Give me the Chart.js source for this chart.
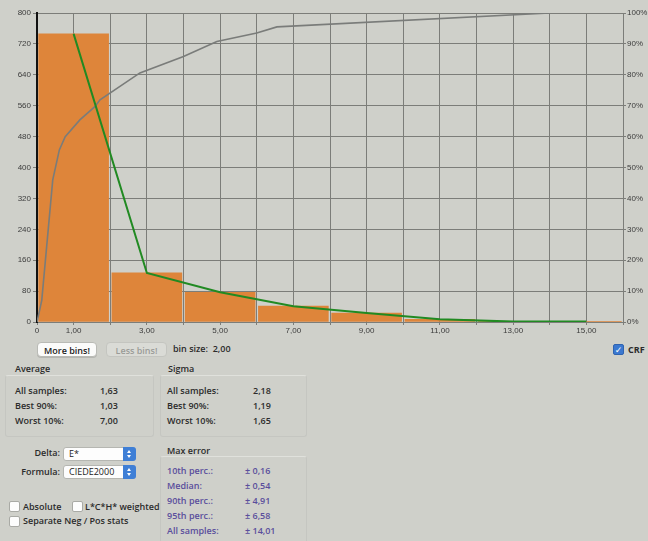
<!DOCTYPE html>
<html>
<head>
<meta charset="utf-8">
<script src="https://cdn.jsdelivr.net/npm/chart.js@4.4.1/dist/chart.umd.min.js"></script>
<style>
  html, body { margin: 0; padding: 0; }
  body {
    width: 648px; height: 541px; position: relative; overflow: hidden;
    background: #cfd0ca;
    font-family: "Open Sans", "DejaVu Sans", sans-serif;
    font-size: 9px; font-weight: 600; color: #2b2b2b;
  }
  #plot { position: absolute; left: 0; top: 0; width: 648px; height: 340px; }
  .t { position: absolute; white-space: nowrap; height: 12px; line-height: 12px; }
  .r { text-align: right; }
  .purple { color: #5a4e9c; }
  .btn {
    position: absolute; height: 15px; line-height: 15px; text-align: center;
    border-radius: 4px; box-sizing: border-box;
  }
  .btn.on { background: #fbfbfa; border: 1px solid #b9bab5; color: #222; box-shadow: 0 1px 0 #b5b6b1; }
  .btn.off { background: #dadbd6; border: 1px solid #c4c5c0; color: #9a9b98; }
  .box {
    position: absolute; box-sizing: border-box;
    border: 1px solid #c5c6c1; border-top-color: #e0e1dc; border-radius: 3px;
  }
  .sel {
    position: absolute; box-sizing: border-box; height: 14px; width: 73px;
    background: #fdfdfd; border: 1px solid #b5b6b1; border-radius: 3px;
    line-height: 12px; padding-left: 5px; font-weight: 500; color: #222;
  }
  .sel .arr {
    position: absolute; right: -1px; top: -1px; width: 13px; height: 14px;
    background: #3f7fd6; border-radius: 0 3px 3px 0;
  }
  .sel .arr::before, .sel .arr::after {
    content: ""; position: absolute; left: 4px; width: 0; height: 0;
    border-left: 2.5px solid transparent; border-right: 2.5px solid transparent;
  }
  .sel .arr::before { top: 3px; border-bottom: 3px solid #fff; }
  .sel .arr::after { top: 8px; border-top: 3px solid #fff; }
  .cb {
    position: absolute; width: 11px; height: 11px; box-sizing: border-box;
    background: #fdfdfd; border: 1px solid #a9aaa5; border-radius: 2px;
  }
  .cb.checked {
    background: #3b78d0; border-color: #2f63b0; color: #fff;
    font-size: 9px; line-height: 9px; text-align: center;
  }
</style>
</head>
<body>
<div id="plot"><canvas id="chart"></canvas></div>

<!-- bin controls -->
<div class="btn on"  style="left:37px; top:342px; width:60px;">More bins!</div>
<div class="btn off" style="left:106px; top:342px; width:61px;">Less bins!</div>
<div class="t" style="left:173px; top:343px;">bin size:&nbsp; 2,00</div>
<div class="cb checked" style="left:613px; top:344px;">&#10003;</div>
<div class="t" style="left:628px; top:344px; font-weight:700;">CRF</div>

<!-- statistics -->
<div class="box" style="left:5px; top:375px; width:149px; height:62px;"></div>
<div class="box" style="left:160px; top:375px; width:147px; height:62px;"></div>
<div class="box" style="left:160px; top:456px; width:147px; height:90px;"></div>
<div id="stats"></div>

<!-- options -->
<div class="t r" style="left:0; width:60px; top:447px;">Delta:</div>
<div class="sel" style="left:63px; top:447px;">E*<span class="arr"></span></div>
<div class="t r" style="left:0; width:60px; top:466px;">Formula:</div>
<div class="sel" style="left:63px; top:465px;">CIEDE2000<span class="arr"></span></div>
<div class="cb" style="left:9px; top:501px;"></div>
<div class="t" style="left:23px; top:501px;">Absolute</div>
<div class="cb" style="left:72px; top:501px;"></div>
<div class="t" style="left:85px; top:501px;">L*C*H* weighted</div>
<div class="cb" style="left:9px; top:516px;"></div>
<div class="t" style="left:23px; top:515px;">Separate Neg / Pos stats</div>

<script>
// Histogram of colour differences, bin size 2,00
const binCenters = [1, 3, 5, 7, 9, 11, 13, 15];
const binCounts  = [746, 127, 77, 41, 23, 7, 1, 1];

// Cumulative relative frequency (percent of samples)
const crfX   = [0, 0.13, 0.43, 0.61, 0.77, 1.17, 1.58, 1.72, 2.81, 4.0, 4.91, 6.0, 6.55, 14];
const crfPct = [0, 7, 46, 55.7, 60, 65.4, 69.7, 71.9, 80.6, 85.9, 90.8, 93.5, 95.5, 100];

// Axis labelling
const xLabelValues = [0, 1, 3, 5, 7, 9, 11, 13, 15];

// Summary tables
const statRows    = ['All samples:', 'Best 90%:', 'Worst 10%:'];
const averageVals = ['1,63', '1,03', '7,00'];
const sigmaVals   = ['2,18', '1,19', '1,65'];
const maxErrRows  = ['10th perc.:', 'Median:', '90th perc.:', '95th perc.:', 'All samples:'];
const maxErrVals  = ['± 0,16', '± 0,54', '± 4,91', '± 6,58', '± 14,01'];

// ---- summary text ----
(function () {
  const host = document.getElementById('stats');
  const add = (txt, x, cy, cls) => {
    const d = document.createElement('div');
    d.className = 't' + (cls ? ' ' + cls : '');
    d.style.left = x + 'px';
    d.style.top = (cy - 6) + 'px';
    d.textContent = txt;
    host.appendChild(d);
  };
  add('Average', 15, 369);
  add('Sigma', 168, 369);
  const rowY = [391, 405.5, 420.5];
  statRows.forEach((lbl, i) => {
    add(lbl, 15, rowY[i]);
    add(averageVals[i], 100, rowY[i]);
    add(lbl, 167, rowY[i]);
    add(sigmaVals[i], 253, rowY[i]);
  });
  add('Max error', 167, 450.5);
  const errY = [470.5, 485.5, 500.5, 515.5, 530.5];
  maxErrRows.forEach((lbl, i) => {
    add(lbl, 167, errY[i], 'purple');
    add(maxErrVals[i], 245, errY[i], 'purple');
  });
})();

// ---- chart ----
Chart.defaults.font.family = '"Liberation Sans", Arial, sans-serif';
Chart.defaults.font.size = 8;
Chart.defaults.color = '#3c3c3c';

const gridColor = '#7c7d79';
const fmtX = v => v === 0 ? '0' : (xLabelValues.includes(v) ? v.toFixed(2).replace('.', ',') : '');

new Chart(document.getElementById('chart'), {
  type: 'bar',
  data: {
    datasets: [
      {
        type: 'line',
        label: 'Frequency',
        data: binCenters.map((x, i) => ({ x, y: binCounts[i] })),
        yAxisID: 'y',
        borderColor: '#218a22',
        borderWidth: 2,
        pointRadius: 0,
        tension: 0,
        order: 0
      },
      {
        type: 'line',
        label: 'CRF',
        data: crfX.map((x, i) => ({ x, y: crfPct[i] })),
        yAxisID: 'y1',
        borderColor: '#7a7c7a',
        borderWidth: 1.6,
        pointRadius: 0,
        tension: 0,
        order: 1
      },
      {
        type: 'bar',
        label: 'Count',
        data: binCenters.map((x, i) => ({ x, y: binCounts[i] })),
        yAxisID: 'y',
        backgroundColor: '#de853a',
        borderWidth: 0,
        barThickness: 'flex',
        categoryPercentage: 1,
        barPercentage: 0.955,
        order: 2
      }
    ]
  },
  options: {
    responsive: true,
    maintainAspectRatio: false,
    animation: false,
    devicePixelRatio: 1,
    layout: { padding: { top: 13, left: 0, right: 0, bottom: 0 } },
    plugins: { legend: { display: false }, tooltip: { enabled: false } },
    scales: {
      x: {
        type: 'linear',
        min: 0, max: 16,
        offset: false,
        grid: { color: gridColor, lineWidth: 1, tickLength: 3, offset: false },
        border: { color: gridColor, width: 1 },
        ticks: { stepSize: 1, autoSkip: false, maxRotation: 0, padding: 1, callback: fmtX },
        afterFit: s => { s.height = 18; }
      },
      y: {
        position: 'left',
        min: 0, max: 800,
        grid: { color: gridColor, lineWidth: 1, tickLength: 4 },
        border: { color: '#111111', width: 2 },
        ticks: { stepSize: 80, padding: 2 },
        afterFit: s => { s.width = 37; }
      },
      y1: {
        position: 'right',
        min: 0, max: 100,
        grid: { drawOnChartArea: false, color: gridColor, tickLength: 3 },
        border: { color: gridColor, width: 1 },
        ticks: { stepSize: 10, padding: 1, callback: v => v + '%' },
        afterFit: s => { s.width = 25; }
      }
    }
  }
});
</script>
</body>
</html>
